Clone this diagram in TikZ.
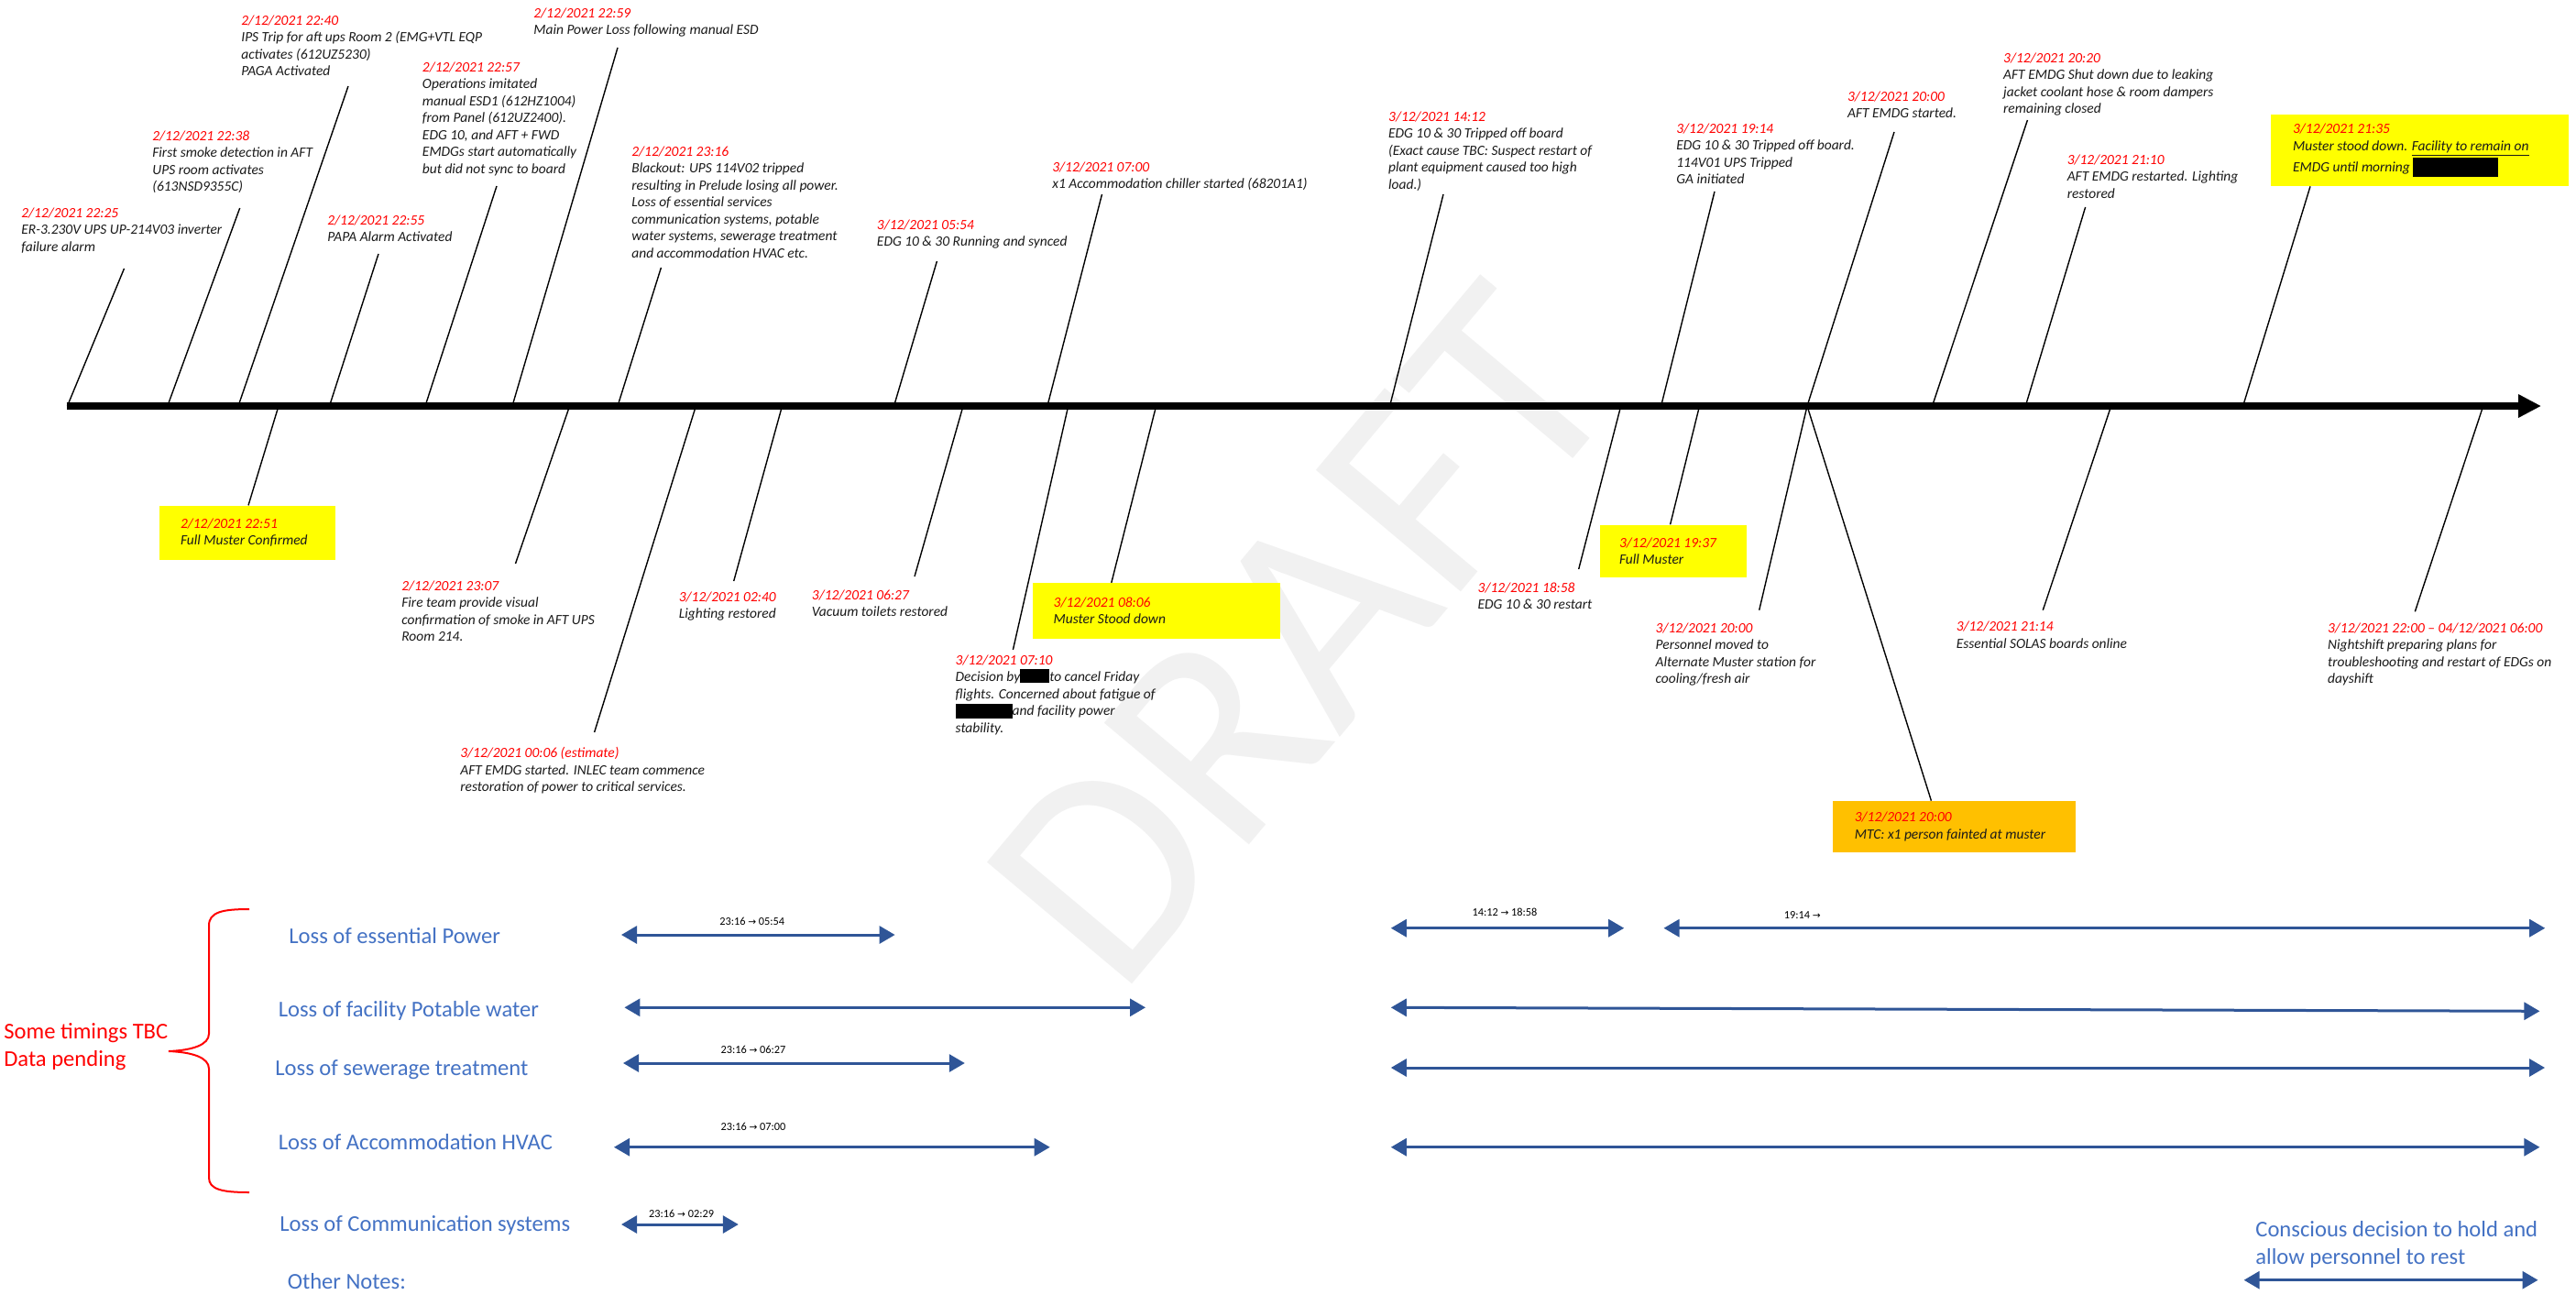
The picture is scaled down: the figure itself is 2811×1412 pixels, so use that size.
\documentclass[tikz,border=0pt]{standalone}
\usepackage{fontspec}
\setmainfont{Carlito}
\newfontfamily\arrowfont{DejaVu Sans}
\usepackage{xcolor}
\usepackage{tikz}
\usetikzlibrary{arrows.meta}
\definecolor{datered}{HTML}{FF0000}
\definecolor{bodyblack}{HTML}{1A1A1A}
\definecolor{musteryellow}{HTML}{FFFF00}
\definecolor{mtcorange}{HTML}{FFC000}
\definecolor{lossblue}{HTML}{4472C4}
\definecolor{arrowblue}{HTML}{2F5597}
\definecolor{wmgrey}{HTML}{F1F1F1}
\newcommand{\evfont}{\fontsize{8.8}{10.5}\selectfont\itshape}
\newcommand{\lossfont}{\fontsize{14}{17}\selectfont}
\newcommand{\rngfont}{\fontsize{7}{8}\selectfont}
\newcommand{\dt}[1]{\textcolor{datered}{#1}}
\newcommand{\redact}[3]{\textcolor{black}{\rule[#1]{#2}{#3}}}
\newcommand{\rarr}{{\arrowfont\fontsize{6}{8}\selectfont →}}

\begin{document}
\begin{tikzpicture}[x=0.2mm, y=-0.2mm,
  evt/.style={anchor=north west, inner sep=0pt, align=left, font=\evfont, text=bodyblack},
  boxtxt/.style={anchor=west, inner sep=0pt, align=left, font=\evfont, text=bodyblack},
  mbox/.style={fill=musteryellow, inner sep=0pt},
  leader/.style={line width=0.28mm},
  axisline/.style={line width=1.6mm, -{Triangle[length=5mm,width=4.8mm]}},
  lossl/.style={anchor=base west, inner sep=0pt, font=\lossfont, text=lossblue},
  span/.style={color=arrowblue, line width=0.6mm,
    {Triangle[length=3.4mm,width=3.8mm]}-{Triangle[length=3.4mm,width=3.8mm]}},
  rng/.style={anchor=base, inner sep=0pt, font=\rngfont},
  wmark/.style={rotate=50, inner sep=0pt, text=wmgrey, font=\fontsize{183}{183}\selectfont}
]
  \useasboundingbox (0,0) rectangle (2811,1412);
  \fill[white] (0,0) rectangle (2811,1412);
  \node[wmark] (draft) at (1420,694) {DRAFT};

  % timeline
  \coordinate (axs) at (72.5,443);
  \coordinate (axe) at (2773,443);

  % events above the line
  \node[evt] (e2225) at (23,226.5)
    {\dt{2/12/2021 22:25}\\ER-3.230V UPS UP-214V03 inverter\\failure alarm};
  \node[evt] (e2238) at (166,142.5)
    {\dt{2/12/2021 22:38}\\First smoke detection in AFT\\UPS room activates\\(613NSD9355C)};
  \node[evt] (e2240) at (263,16.5)
    {\dt{2/12/2021 22:40}\\IPS Trip for aft ups Room 2 (EMG+VTL EQP\\activates (612UZ5230)\\PAGA Activated};
  \node[evt] (e2255) at (357,234.5)
    {\dt{2/12/2021 22:55}\\PAPA Alarm Activated};
  \node[evt] (e2257) at (460.6,67.5)
    {\dt{2/12/2021 22:57}\\Operations imitated\\manual ESD1 (612HZ1004)\\from Panel (612UZ2400).\\EDG 10, and AFT + FWD\\EMDGs start automatically\\but did not sync to board};
  \node[evt] (e2259) at (582,8.5)
    {\dt{2/12/2021 22:59}\\Main Power Loss following manual ESD};
  \node[evt] (e2316) at (689,159.5)
    {\dt{2/12/2021 23:16}\\Blackout: UPS 114V02 tripped\\resulting in Prelude losing all power.\\Loss of essential services\\communication systems, potable\\water systems, sewerage treatment\\and accommodation HVAC etc.};
  \node[evt] (e0554) at (956.6,239.5)
    {\dt{3/12/2021 05:54}\\EDG 10 \& 30 Running and synced};
  \node[evt] (e0700) at (1148,176.5)
    {\dt{3/12/2021 07:00}\\x1 Accommodation chiller started (68201A1)};
  \node[evt] (e1412) at (1514.8,121.5)
    {\dt{3/12/2021 14:12}\\EDG 10 \& 30 Tripped off board\\(Exact cause TBC: Suspect restart of\\plant equipment caused too high\\load.)};
  \node[evt] (e1914) at (1829,134.5)
    {\dt{3/12/2021 19:14}\\EDG 10 \& 30 Tripped off board.\\114V01 UPS Tripped\\GA initiated};
  \node[evt] (e2000a) at (2015.7,99.5)
    {\dt{3/12/2021 20:00}\\AFT EMDG started.};
  \node[evt] (e2020) at (2185.8,57.5)
    {\dt{3/12/2021 20:20}\\AFT EMDG Shut down due to leaking\\jacket coolant hose \& room dampers\\remaining closed};
  \node[evt] (e2110) at (2255.4,168.5)
    {\dt{3/12/2021 21:10}\\AFT EMDG restarted. Lighting\\restored};
  \node[mbox, minimum width=64.9mm, minimum height=15.6mm] (b2135) at (2640.3,164) {};
  \node[boxtxt] (e2135) at ([xshift=4.8mm]b2135.west)
    {\dt{3/12/2021 21:35}\\Muster stood down. \underline{Facility to remain on}\\EMDG until morning \redact{-1mm}{18.6mm}{4.2mm}};

  % events below the line
  \node[mbox, minimum width=38.4mm, minimum height=11.8mm] (b2251) at (270,581.2) {};
  \node[boxtxt] (e2251) at ([xshift=4.6mm]b2251.west)
    {\dt{2/12/2021 22:51}\\Full Muster Confirmed};
  \node[evt] (e2307) at (438,633.5)
    {\dt{2/12/2021 23:07}\\Fire team provide visual\\confirmation of smoke in AFT UPS\\Room 214.};
  \node[evt] (e0006) at (502,815.2)
    {\dt{3/12/2021 00:06 (estimate)}\\AFT EMDG started. INLEC team commence\\restoration of power to critical services.};
  \node[evt] (e0240) at (740.5,645.2)
    {\dt{3/12/2021 02:40}\\Lighting restored};
  \node[evt] (e0627) at (885.6,643.5)
    {\dt{3/12/2021 06:27}\\Vacuum toilets restored};
  \node[evt] (e0710) at (1042.3,714.5)
    {\dt{3/12/2021 07:10}\\Decision by\redact{-0.25mm}{6.4mm}{3.05mm}to cancel Friday\\flights. Concerned about fatigue of\\\redact{-0.6mm}{12.4mm}{3.2mm}and facility power\\stability.};
  \node[mbox, minimum width=54.1mm, minimum height=12.1mm] (b0806) at (1261.9,666.4) {};
  \node[boxtxt] (e0806) at ([xshift=4.6mm]b0806.west)
    {\dt{3/12/2021 08:06}\\Muster Stood down};
  \node[evt] (e1858) at (1612.3,635.5)
    {\dt{3/12/2021 18:58}\\EDG 10 \& 30 restart};
  \node[mbox, minimum width=31.9mm, minimum height=11.5mm] (b1937) at (1825.8,601.4) {};
  \node[boxtxt] (e1937) at ([xshift=4.2mm]b1937.west)
    {\dt{3/12/2021 19:37}\\Full Muster};
  \node[evt] (e2000p) at (1806.3,679.2)
    {\dt{3/12/2021 20:00}\\Personnel moved to\\Alternate Muster station for\\cooling/fresh air};
  \node[mbox, fill=mtcorange, minimum width=53mm, minimum height=11.2mm] (bmtc) at (2132.3,902) {};
  \node[boxtxt] (emtc) at ([xshift=4.8mm]bmtc.west)
    {\dt{3/12/2021 20:00}\\MTC: x1 person fainted at muster};
  \node[evt] (e2114) at (2134.4,677.8)
    {\dt{3/12/2021 21:14}\\Essential SOLAS boards online};
  \node[evt] (e2200) at (2539.7,679.2)
    {\dt{3/12/2021 22:00 -- 04/12/2021 06:00}\\Nightshift preparing plans for\\troubleshooting and restart of EDGs on\\dayshift};

  % leader lines: axis point and free end
  \coordinate (a2225) at (73.5,443);   \coordinate (t2225) at (135.5,293);
  \coordinate (a2238) at (182.8,443);  \coordinate (t2238) at (261.7,227);
  \coordinate (a2240) at (260,443);    \coordinate (t2240) at (380,94);
  \coordinate (a2255) at (359.5,443);  \coordinate (t2255) at (413,277);
  \coordinate (a2257) at (464,443);    \coordinate (t2257) at (542,203);
  \coordinate (a2259) at (559,443);    \coordinate (t2259) at (674,52);
  \coordinate (a2316) at (674,443);    \coordinate (t2316) at (721.4,292);
  \coordinate (a0554) at (975.5,443);  \coordinate (t0554) at (1022.4,285);
  \coordinate (a0700) at (1142.9,443); \coordinate (t0700) at (1202.5,212);
  \coordinate (a1412) at (1516.6,443); \coordinate (t1412) at (1575,212);
  \coordinate (a1914) at (1812.6,443); \coordinate (t1914) at (1871,209);
  \coordinate (a2000) at (1972,443);   \coordinate (t2000a) at (2067,144);
  \coordinate (a2020) at (2108.5,443); \coordinate (t2020) at (2212.4,131);
  \coordinate (a2110) at (2210.3,443); \coordinate (t2110) at (2275.6,226);
  \coordinate (a2135) at (2447.6,443);
  \coordinate (a2251) at (304,443);
  \coordinate (a2307) at (621.6,443);  \coordinate (t2307) at (562.5,615);
  \coordinate (a0006) at (759.4,443);  \coordinate (t0006) at (648.6,799);
  \coordinate (a0240) at (853.5,443);  \coordinate (t0240) at (800.7,634);
  \coordinate (a0627) at (1051,443);   \coordinate (t0627) at (998,629);
  \coordinate (a0710) at (1165.7,443); \coordinate (t0710) at (1105.4,709);
  \coordinate (a0806) at (1261.6,443);
  \coordinate (a1858) at (1768.7,443); \coordinate (t1858) at (1722.7,621);
  \coordinate (a1937) at (1854.5,443);
  \coordinate (t2000p) at (1919.7,665.7);
  \coordinate (a2114) at (2303.7,443); \coordinate (t2114) at (2229.3,665.7);
  \coordinate (a2200) at (2709.7,443); \coordinate (t2200) at (2635.3,667.3);

  \draw[leader] (a2225) -- (t2225);
  \draw[leader] (a2238) -- (t2238);
  \draw[leader] (a2240) -- (t2240);
  \draw[leader] (a2255) -- (t2255);
  \draw[leader] (a2257) -- (t2257);
  \draw[leader] (a2259) -- (t2259);
  \draw[leader] (a2316) -- (t2316);
  \draw[leader] (a0554) -- (t0554);
  \draw[leader] (a0700) -- (t0700);
  \draw[leader] (a1412) -- (t1412);
  \draw[leader] (a1914) -- (t1914);
  \draw[leader] (a2000) -- (t2000a);
  \draw[leader] (a2020) -- (t2020);
  \draw[leader] (a2110) -- (t2110);
  \draw[leader] (a2135) -- (b2135.south -| 2521,0);
  \draw[leader] (a2251) -- (b2251.north -| 271,0);
  \draw[leader] (a2307) -- (t2307);
  \draw[leader] (a0006) -- (t0006);
  \draw[leader] (a0240) -- (t0240);
  \draw[leader] (a0627) -- (t0627);
  \draw[leader] (a0710) -- (t0710);
  \draw[leader] (a0806) -- (b0806.north -| 1212.8,0);
  \draw[leader] (a1858) -- (t1858);
  \draw[leader] (a1937) -- (b1937.north -| 1822.6,0);
  \draw[leader] (a2000) -- (t2000p);
  \draw[leader] (a2000) -- (bmtc.north -| 2107.4,0);
  \draw[leader] (a2114) -- (t2114);
  \draw[leader] (a2200) -- (t2200);

  \draw[axisline] (axs) -- (axe);

  % loss of services
  \draw[red, line width=0.4mm] (272,992) .. controls (243,992) and (228,995) .. (228,1010)
    -- (228,1128) .. controls (228,1140) and (210,1146) .. (184,1147)
    .. controls (210,1148) and (228,1154) .. (228,1166)
    -- (228,1285) .. controls (228,1298) and (243,1301) .. (272,1301);
  \node[anchor=west, inner sep=0pt, align=left, font=\lossfont, text=red] (tbc) at (4,1141.7)
    {Some timings TBC\\Data pending};

  \node[lossl] (lpow) at (315,1029.7) {Loss of essential Power};
  \node[lossl] (lwat) at (303.4,1109) {Loss of facility Potable water};
  \node[lossl] (lsew) at (300,1173) {Loss of sewerage treatment};
  \node[lossl] (lhvac) at (303.4,1254.7) {Loss of Accommodation HVAC};
  \node[lossl] (lcom) at (305,1343) {Loss of Communication systems};
  \node[lossl] (lnote) at (313.4,1406.3) {Other Notes:};

  \coordinate (pw1s) at (678,1020);     \coordinate (pw1e) at (976.6,1020);
  \coordinate (pw2s) at (1517.8,1012.7); \coordinate (pw2e) at (1772.2,1012.7);
  \coordinate (pw3s) at (1815.5,1012.7); \coordinate (pw3e) at (2777.2,1012.7);
  \coordinate (wa1s) at (681.4,1099.3); \coordinate (wa1e) at (1250,1099.3);
  \coordinate (wa2s) at (1517.8,1099.3); \coordinate (wa2e) at (2771.4,1103.3);
  \coordinate (se1s) at (680,1160);     \coordinate (se1e) at (1052.8,1160);
  \coordinate (se2s) at (1517.8,1165);  \coordinate (se2e) at (2777,1165);
  \coordinate (hv1s) at (670,1251.7);   \coordinate (hv1e) at (1145.7,1251.7);
  \coordinate (hv2s) at (1517.8,1251.7); \coordinate (hv2e) at (2771.4,1251.7);
  \coordinate (co1s) at (678,1336);     \coordinate (co1e) at (805.8,1336);
  \coordinate (rests) at (2448.6,1396.7); \coordinate (reste) at (2769.5,1396.7);

  \draw[span] (pw1s) -- (pw1e);
  \draw[span] (pw2s) -- (pw2e);
  \draw[span] (pw3s) -- (pw3e);
  \draw[span] (wa1s) -- (wa1e);
  \draw[span] (wa2s) -- (wa2e);
  \draw[span] (se1s) -- (se1e);
  \draw[span] (se2s) -- (se2e);
  \draw[span] (hv1s) -- (hv1e);
  \draw[span] (hv2s) -- (hv2e);
  \draw[span] (co1s) -- (co1e);
  \draw[span] (rests) -- (reste);

  \node[rng] (rpw1) at (820.7,1009) {23:16 \rarr{} 05:54};
  \node[rng] (rpw2) at (1642,999) {14:12 \rarr{} 18:58};
  \node[rng] (rpw3) at (1966.8,1002.3) {19:14 \rarr};
  \node[rng] (rse1) at (822,1149) {23:16 \rarr{} 06:27};
  \node[rng] (rhv1) at (822,1233) {23:16 \rarr{} 07:00};
  \node[rng] (rco1) at (743.6,1328) {23:16 \rarr{} 02:29};

  \node[anchor=west, inner sep=0pt, align=left, font=\lossfont, text=lossblue] (rest) at (2461,1358.3)
    {Conscious decision to hold and\\allow personnel to rest};
\end{tikzpicture}
\end{document}
